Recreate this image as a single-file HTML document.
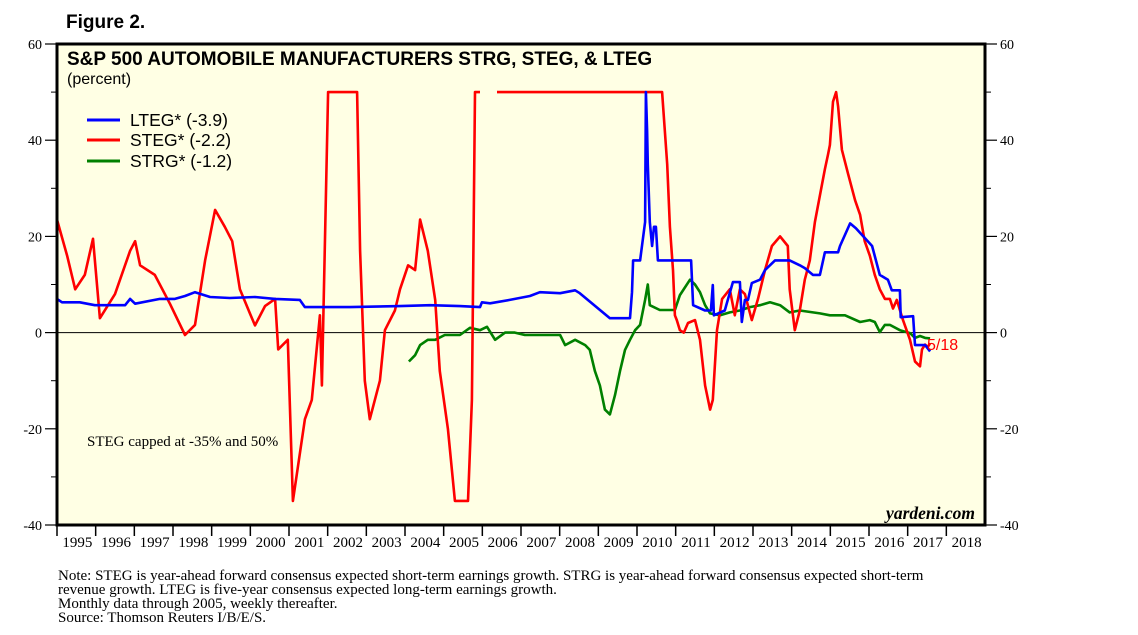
<!DOCTYPE html>
<html><head><meta charset="utf-8"><style>
body{margin:0;background:#fff;}
svg{display:block;}
</style></head><body>
<svg id="chart" width="1138" height="635" xmlns="http://www.w3.org/2000/svg" font-family="Liberation Sans, sans-serif">
<text x="66" y="28" font-size="19" font-weight="bold">Figure 2.</text>
<rect x="57" y="44" width="928" height="481" fill="#ffffe4"/>
<g id="axes"></g>
<g id="series"></g>
<rect x="57" y="44" width="928" height="481" fill="none" stroke="#000" stroke-width="3"/>
<text x="67" y="65" font-size="19" font-weight="bold">S&amp;P 500 AUTOMOBILE MANUFACTURERS STRG, STEG, &amp; LTEG</text>
<text x="67" y="84" font-size="16">(percent)</text>
<g>
<line x1="87" y1="120" x2="120" y2="120" stroke="#0000ff" stroke-width="3"/>
<text x="130" y="126" font-size="17.5">LTEG* (-3.9)</text>
<line x1="87" y1="140" x2="120" y2="140" stroke="#ff0000" stroke-width="3"/>
<text x="130" y="146" font-size="17.5">STEG* (-2.2)</text>
<line x1="87" y1="161" x2="120" y2="161" stroke="#008000" stroke-width="3"/>
<text x="130" y="167" font-size="17.5">STRG* (-1.2)</text>
</g>
<text x="87" y="446" font-size="15" font-family="Liberation Serif, serif">STEG capped at -35% and 50%</text>
<text x="975" y="519" font-size="17.5" font-family="Liberation Serif, serif" font-style="italic" font-weight="bold" text-anchor="end">yardeni.com</text>
<text x="927" y="350" font-size="16" fill="#ff0000">5/18</text>
<g font-family="Liberation Serif, serif" font-size="15">
<text x="58" y="580">Note: STEG is year-ahead forward consensus expected short-term earnings growth. STRG is year-ahead forward consensus expected short-term</text>
<text x="58" y="594">revenue growth. LTEG is five-year consensus expected long-term earnings growth.</text>
<text x="58" y="608">Monthly data through 2005, weekly thereafter.</text>
<text x="58" y="622">Source: Thomson Reuters I/B/E/S.</text>
</g>
</svg>
<script>
const yTicks=[60,40,20,0,-20,-40];
const yMinor=[50,30,10,-10,-30];
const xYears=[1995,1996,1997,1998,1999,2000,2001,2002,2003,2004,2005,2006,2007,2008,2009,2010,2011,2012,2013,2014,2015,2016,2017,2018];
const ltegDates=[1995.00,1995.13,1995.59,1995.98,1996.76,1996.89,1997.02,1997.66,1998.05,1998.31,1998.57,1998.96,1999.47,2000.12,2000.64,2001.28,2001.41,2002.58,2003.87,2004.65,2005.42,2005.94,2005.99,2006.20,2006.71,2007.23,2007.49,2008.01,2008.40,2008.52,2009.30,2009.82,2009.87,2009.90,2010.08,2010.21,2010.23,2010.26,2010.28,2010.33,2010.39,2010.44,2010.49,2010.54,2011.40,2011.45,2011.76,2011.91,2011.96,2011.99,2012.27,2012.33,2012.48,2012.66,2012.71,2012.79,2012.87,2012.97,2013.18,2013.31,2013.57,2013.95,2014.21,2014.34,2014.55,2014.73,2014.86,2015.20,2015.25,2015.51,2015.66,2016.08,2016.28,2016.49,2016.59,2016.80,2016.82,2017.14,2017.19,2017.45,2017.58];
const ltegValues=[7.0,6.3,6.3,5.7,5.7,7.0,6.0,7.0,7.0,7.6,8.4,7.4,7.2,7.4,7.0,6.8,5.3,5.3,5.5,5.7,5.5,5.3,6.3,6.1,6.8,7.6,8.4,8.2,8.8,8.2,3.0,3.0,8.4,15,15,23,50,42,35,23,18,22,22,15,15,5.7,4.6,4.6,9.9,3.6,4.6,6.3,10.5,10.5,2.2,6.8,6.8,10.3,11,13,15,15,14,13.4,12,12,16.7,16.7,18,22.7,21.7,18,12,11,8.8,8.8,3.2,3.4,-2.6,-2.6,-3.9];
const stegDates=[1995.00,1995.26,1995.47,1995.72,1995.93,1996.11,1996.50,1996.89,1997.02,1997.15,1997.53,1997.92,1998.31,1998.57,1998.83,1999.09,1999.34,1999.53,1999.73,1999.99,2000.12,2000.38,2000.64,2000.72,2000.97,2001.10,2001.41,2001.59,2001.80,2001.85,2002.01,2002.76,2002.84,2002.96,2003.09,2003.35,2003.48,2003.74,2003.87,2004.08,2004.26,2004.39,2004.59,2004.78,2004.90,2005.11,2005.29,2005.63,2005.73,2005.81,2005.94,2006.10,2006.38,2010.65,2010.78,2010.85,2010.93,2010.98,2011.03,2011.11,2011.21,2011.32,2011.50,2011.63,2011.76,2011.89,2011.96,2012.07,2012.20,2012.40,2012.53,2012.66,2012.79,2012.97,2013.13,2013.31,2013.49,2013.70,2013.90,2013.95,2014.08,2014.21,2014.34,2014.47,2014.60,2014.73,2014.86,2014.94,2014.99,2015.07,2015.15,2015.20,2015.30,2015.46,2015.64,2015.77,2015.89,2016.02,2016.15,2016.28,2016.41,2016.54,2016.62,2016.72,2016.88,2017.06,2017.19,2017.32,2017.37,2017.45,2017.52,2017.58];
const stegValues=[23.5,16,9,12,19.5,3,8,17,19,14,12,6,-0.5,1.6,15,25.5,22,19,9,4,1.5,5.5,7,-3.5,-1.5,-35,-18,-14,3.6,-11,50,50,17,-10,-18,-10,0.5,4.6,9,14,13,23.5,17,6.8,-8,-20,-35,-35,-14,50,50,null,50,50,35,22,13,3.6,2.6,0.5,0,2,2.6,-1.5,-11,-16,-14,0.5,7,9,3.6,9,8,2.6,7,13,18,20,18,9,0.5,4.6,11,15,23,28.5,34,37,39,48,50,47,38,33,27.5,24.5,19,16,12,9,7,7,5,6.8,2.6,-1.5,-6,-7,-3.5,-2.5,-3,-2.2];
const strgDates=[2004.10,2004.26,2004.39,2004.59,2004.78,2005.03,2005.42,2005.68,2005.94,2006.12,2006.33,2006.59,2006.84,2007.10,2007.49,2008.01,2008.14,2008.40,2008.66,2008.78,2008.91,2009.04,2009.17,2009.30,2009.43,2009.56,2009.69,2009.82,2009.95,2010.08,2010.21,2010.28,2010.33,2010.59,2010.98,2011.11,2011.37,2011.50,2011.63,2011.76,2011.89,2012.15,2012.40,2012.66,2012.92,2013.18,2013.44,2013.70,2013.95,2014.21,2014.73,2014.99,2015.38,2015.77,2016.02,2016.15,2016.28,2016.41,2016.54,2016.80,2017.06,2017.19,2017.32,2017.45,2017.58];
const strgValues=[-6,-4.7,-2.6,-1.5,-1.5,-0.5,-0.5,1,0.5,1.2,-1.5,0,0,-0.5,-0.5,-0.5,-2.6,-1.5,-2.6,-3.6,-8,-11,-16,-17,-13,-8,-3.6,-1.5,0.5,1.6,6.8,10,5.7,4.7,4.7,7.8,11,10,8.4,5.7,4,3.6,4.2,4.6,5.3,5.7,6.3,5.7,4.2,4.6,4,3.6,3.6,2.2,2.6,2.2,0.1,1.6,1.6,0.5,-0.1,-1.1,-0.7,-1.1,-1.2];

const NS='http://www.w3.org/2000/svg';
const X0=57,X1=985,Y0=44,Y1=525;
function xs(yr){return X0+(yr-1995)/(2019-1995)*(X1-X0);}
function ys(v){return Y1-(v+40)/100*(Y1-Y0);}
function mk(tag,attrs,parent){const e=document.createElementNS(NS,tag);for(const k in attrs)e.setAttribute(k,attrs[k]);parent.appendChild(e);return e;}
const axes=document.getElementById('axes');
yTicks.forEach(v=>{
  const y=ys(v);
  let t=mk('line',{x1:45,x2:X0,y1:y,y2:y,stroke:'#000','stroke-width':1.2},axes);
  
  
  t=mk('line',{x1:X1,x2:997,y1:y,y2:y,stroke:'#000','stroke-width':1.2},axes);
  
  
  let l=mk('text',{x:42,y:y+5,'font-size':14,'font-family':'Liberation Serif, serif','text-anchor':'end'},axes);
  l.textContent=v;
  
  
  l=mk('text',{x:1000,y:y+5,'font-size':14,'font-family':'Liberation Serif, serif'},axes);
  l.textContent=v;
  
  
});
yMinor.forEach(v=>{
  const y=ys(v);
  let t=mk('line',{x1:51,x2:X0,y1:y,y2:y,stroke:'#000','stroke-width':1},axes);
  
  
  t=mk('line',{x1:X1,x2:991,y1:y,y2:y,stroke:'#000','stroke-width':1},axes);
  
  
});
const z=mk('line',{x1:X0,x2:X1,y1:ys(0),y2:ys(0),stroke:'#000','stroke-width':1},axes);


xYears.forEach(yr=>{
  const x=xs(yr);
  const t=mk('line',{x1:x,x2:x,y1:Y1,y2:536,stroke:'#000','stroke-width':1.5},axes);
  
  
  const l=mk('text',{x:x+(xs(yr+1)-x)/2+1,y:547,'font-size':15,'font-family':'Liberation Serif, serif','text-anchor':'middle'},axes);
  l.textContent=yr;
  
  
});
const ser=document.getElementById('series');
function drawLine(dates,vals,color,name){
  let d='',pen=false;
  for(let i=0;i<dates.length;i++){
    if(vals[i]===null){pen=false;continue;}
    d+=(pen?'L':'M')+xs(dates[i]).toFixed(1)+','+ys(vals[i]).toFixed(1);
    pen=true;
  }
  const p=mk('path',{d:d,fill:'none',stroke:color,'stroke-width':2.6,'stroke-linejoin':'round'},ser);
  
  
}
drawLine(strgDates,strgValues,'#008000','strg-line');
drawLine(stegDates,stegValues,'#ff0000','steg-line');
drawLine(ltegDates,ltegValues,'#0000ff','lteg-line');
</script>
</body></html>
